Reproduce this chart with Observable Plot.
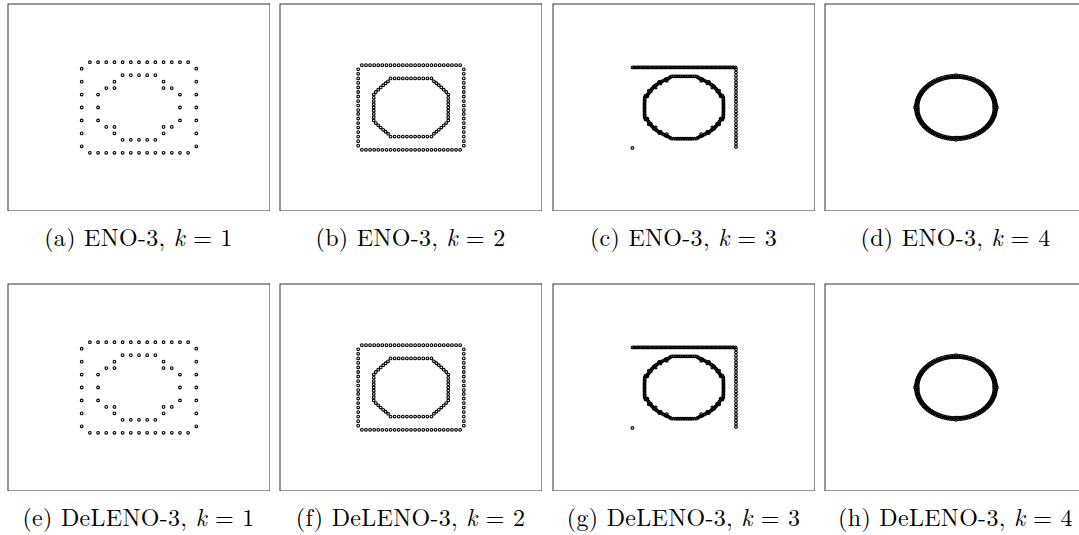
<!DOCTYPE html>
<html>
<head>
<meta charset="utf-8">
<script src="https://cdn.jsdelivr.net/npm/d3@7"></script>
<script src="https://cdn.jsdelivr.net/npm/@observablehq/plot@0.6"></script>
<style>
  body { margin: 0; background: #fff; }
  #fig { position: relative; width: 1079px; height: 535px; overflow: hidden; background: #fff; }
  .panel { position: absolute; width: 263px; height: 208px; }
  .panel svg { display: block; max-width: none !important; width: 263px; height: 208px; }
  .cap {
    position: absolute; width: 340px; text-align: center; white-space: nowrap;
    font-family: "Latin Modern Roman", "CMU Serif", "Liberation Serif", serif;
    font-size: 24px; line-height: 24px; letter-spacing: 0.3px; color: #000;
  }
  .cap i { letter-spacing: 0; }
</style>
</head>
<body>
<div id="fig"></div>
<script>
// Interface marker positions on a 32 x 32 unit box (centre at 16,16).
const schemes = ["ENO-3", "DeLENO-3"];
const levels = [1, 2, 3, 4];
const letters = ["a", "b", "c", "d", "e", "f", "g", "h"];

// k = 1 : square ring + inner ring
const k1RowX = [10, 11, 12, 13, 14, 15, 16, 17, 18, 19, 20, 21, 22];
const k1RowY = [23, 9];
const k1ColY = [10, 12, 14, 16, 18, 20, 22];
const k1ColX = [9, 23];
const k1Inner = [
  [14, 21], [15, 21], [16, 21], [17, 21], [18, 21],
  [13, 20], [19, 20],
  [12, 19], [13, 19], [19, 19], [20, 19],
  [11, 18], [21, 18], [11, 16], [21, 16], [11, 14], [21, 14],
  [12, 13], [13, 13], [19, 13], [20, 13],
  [13, 12], [19, 12],
  [14, 11], [15, 11], [16, 11], [17, 11], [18, 11]
];

// k = 2
const k2RowX = [10, 10.5, 11, 11.5, 12, 12.5, 13, 13.5, 14, 14.5, 15, 15.5, 16, 16.5, 17, 17.5, 18, 18.5, 19, 19.5, 20, 20.5, 21, 21.5, 22];
const k2RowY = [22.55, 9.45];
const k2ColY = [10.1, 10.8, 11.5, 12.2, 12.9, 13.6, 14.3, 15, 15.6, 16.3, 17, 17.7, 18.4, 19.1, 19.8, 20.5, 21.2, 21.9];
const k2ColX = [9.55, 22.45];
const k2Inner = [
  [13.5, 20.5], [14, 20.5], [14.5, 20.5], [15, 20.5], [15.5, 20.5], [16, 20.5], [16.5, 20.5], [17, 20.5], [17.5, 20.5], [18, 20.5], [18.5, 20.5],
  [13.5, 11.5], [14, 11.5], [14.5, 11.5], [15, 11.5], [15.5, 11.5], [16, 11.5], [16.5, 11.5], [17, 11.5], [17.5, 11.5], [18, 11.5], [18.5, 11.5],
  [11.45, 14], [11.45, 14.5], [11.45, 15], [11.45, 15.5], [11.45, 16], [11.45, 16.5], [11.45, 17], [11.45, 17.5], [11.45, 18],
  [20.55, 14], [20.55, 14.5], [20.55, 15], [20.55, 15.5], [20.55, 16], [20.55, 16.5], [20.55, 17], [20.55, 17.5], [20.55, 18],
  [13.2, 20.05], [12.9, 19.75], [12.6, 19.45], [12.3, 19.1], [12.0, 18.75], [11.7, 18.4],
  [18.8, 20.05], [19.1, 19.75], [19.4, 19.45], [19.7, 19.1], [20.0, 18.75], [20.3, 18.4],
  [13.2, 11.95], [12.9, 12.25], [12.6, 12.55], [12.3, 12.9], [12.0, 13.25], [11.7, 13.6],
  [18.8, 11.95], [19.1, 12.25], [19.4, 12.55], [19.7, 12.9], [20.0, 13.25], [20.3, 13.6]
];

// k = 3 : top edge, right edge, lone marker, ring (angle in degrees, radius)
const k3TopX = [9.7, 9.9, 10.1, 10.3, 10.5, 10.7, 10.9, 11.1, 11.3, 11.5, 11.7, 11.9, 12.1, 12.3, 12.5, 12.7, 12.9, 13.1, 13.3, 13.5, 13.7, 13.9, 14.1, 14.3, 14.5, 14.7, 14.9, 15.1, 15.3, 15.5, 15.7, 15.9, 16.1, 16.3, 16.5, 16.7, 16.9, 17.1, 17.3, 17.5, 17.7, 17.9, 18.1, 18.3, 18.5, 18.7, 18.9, 19.1, 19.3, 19.5, 19.7, 19.9, 20.1, 20.3, 20.5, 20.7, 20.9, 21.1, 21.3, 21.5, 21.7, 21.9, 22.1, 22.3];
const k3TopY = 22.2;
const k3ColY = [9.9, 10.4, 10.9, 11.4, 11.9, 12.4, 12.9, 13.4, 13.9, 14.4, 14.9, 15.4, 15.9, 16.4, 16.9, 17.4, 17.9, 18.4, 18.9, 19.4, 19.9, 20.4, 20.9, 21.4, 21.9];
const k3ColX = 22.35;
const k3Lone = [9.7, 9.75];
const k3RingStep = 2.5;
const k3RingR = [
  4.82, 4.83, 4.84, 4.86, 4.89, 4.93, 4.98, 5.04, 4.98, 4.9, 4.86, 4.85, 4.85, 4.85, 4.86, 4.86, 4.86, 4.86,
  4.86, 4.86, 4.86, 4.86, 4.85, 4.85, 4.85, 4.85, 4.86, 4.9, 4.98, 5.04, 4.98, 4.93, 4.89, 4.86, 4.84, 4.83,
  4.82, 4.83, 4.84, 4.86, 4.89, 4.93, 4.98, 5.04, 4.98, 4.9, 4.86, 4.85, 4.85, 4.85, 4.86, 4.86, 4.86, 4.86,
  4.86, 4.86, 4.86, 4.86, 4.85, 4.85, 4.85, 4.85, 4.86, 4.9, 4.98, 5.04, 4.98, 4.93, 4.89, 4.86, 4.84, 4.83,
  4.82, 4.83, 4.84, 4.86, 4.89, 4.93, 4.98, 5.04, 4.98, 4.9, 4.86, 4.85, 4.85, 4.85, 4.86, 4.86, 4.86, 4.86,
  4.86, 4.86, 4.86, 4.86, 4.85, 4.85, 4.85, 4.85, 4.86, 4.9, 4.98, 5.04, 4.98, 4.93, 4.89, 4.86, 4.84, 4.83,
  4.82, 4.83, 4.84, 4.86, 4.89, 4.93, 4.98, 5.04, 4.98, 4.9, 4.86, 4.85, 4.85, 4.85, 4.86, 4.86, 4.86, 4.86,
  4.86, 4.86, 4.86, 4.86, 4.85, 4.85, 4.85, 4.85, 4.86, 4.9, 4.98, 5.04, 4.98, 4.93, 4.89, 4.86, 4.84, 4.83
];
// extra markers bunched along the diagonal stretches of the k = 3 ring: [angle, radius]
const k3Clusters = [
  [63, 4.62], [63, 4.9], [52.5, 4.7], [52.5, 4.98], [41.7, 4.64], [41.7, 4.92], [31.4, 4.76], [31.4, 5.02], [21.2, 4.8], [21.2, 5.05],
  [117, 4.62], [117, 4.9], [127.5, 4.7], [127.5, 4.98], [138.3, 4.64], [138.3, 4.92], [148.6, 4.76], [148.6, 5.02], [158.8, 4.8], [158.8, 5.05],
  [243, 4.62], [243, 4.9], [232.5, 4.7], [232.5, 4.98], [221.7, 4.64], [221.7, 4.92], [211.4, 4.76], [211.4, 5.02], [201.2, 4.8], [201.2, 5.05],
  [297, 4.62], [297, 4.9], [307.5, 4.7], [307.5, 4.98], [318.3, 4.64], [318.3, 4.92], [328.6, 4.76], [328.6, 5.02], [338.8, 4.8], [338.8, 5.05]
];

// k = 4 : dense ring, two staggered bands (angle step 3 degrees, offset 1.5)
const k4RingStep = 3;
const k4RingOuterR = [
  5.0, 4.93, 4.9, 4.9, 4.9, 4.9, 4.9, 4.9, 4.9, 4.9, 4.9, 4.9, 4.9, 4.9, 4.9, 4.9, 4.9, 4.9, 4.9, 4.9, 4.9, 4.9, 4.9, 4.9, 4.9, 4.9, 4.9, 4.9, 4.9, 4.93,
  5.0, 4.93, 4.9, 4.9, 4.9, 4.9, 4.9, 4.9, 4.9, 4.9, 4.9, 4.9, 4.9, 4.9, 4.9, 4.9, 4.9, 4.9, 4.9, 4.9, 4.9, 4.9, 4.9, 4.9, 4.9, 4.9, 4.9, 4.9, 4.9, 4.93,
  5.0, 4.93, 4.9, 4.9, 4.9, 4.9, 4.9, 4.9, 4.9, 4.9, 4.9, 4.9, 4.9, 4.9, 4.9, 4.9, 4.9, 4.9, 4.9, 4.9, 4.9, 4.9, 4.9, 4.9, 4.9, 4.9, 4.9, 4.9, 4.9, 4.93,
  5.0, 4.93, 4.9, 4.9, 4.9, 4.9, 4.9, 4.9, 4.9, 4.9, 4.9, 4.9, 4.9, 4.9, 4.9, 4.9, 4.9, 4.9, 4.9, 4.9, 4.9, 4.9, 4.9, 4.9, 4.9, 4.9, 4.9, 4.9, 4.9, 4.93
];
const k4RingInnerR = [
  4.66, 4.68, 4.7, 4.7, 4.7, 4.7, 4.7, 4.7, 4.7, 4.7, 4.7, 4.7, 4.7, 4.7, 4.7, 4.7, 4.7, 4.7, 4.7, 4.7, 4.7, 4.7, 4.7, 4.7, 4.7, 4.7, 4.7, 4.7, 4.7, 4.68,
  4.66, 4.68, 4.7, 4.7, 4.7, 4.7, 4.7, 4.7, 4.7, 4.7, 4.7, 4.7, 4.7, 4.7, 4.7, 4.7, 4.7, 4.7, 4.7, 4.7, 4.7, 4.7, 4.7, 4.7, 4.7, 4.7, 4.7, 4.7, 4.7, 4.68,
  4.66, 4.68, 4.7, 4.7, 4.7, 4.7, 4.7, 4.7, 4.7, 4.7, 4.7, 4.7, 4.7, 4.7, 4.7, 4.7, 4.7, 4.7, 4.7, 4.7, 4.7, 4.7, 4.7, 4.7, 4.7, 4.7, 4.7, 4.7, 4.7, 4.68,
  4.66, 4.68, 4.7, 4.7, 4.7, 4.7, 4.7, 4.7, 4.7, 4.7, 4.7, 4.7, 4.7, 4.7, 4.7, 4.7, 4.7, 4.7, 4.7, 4.7, 4.7, 4.7, 4.7, 4.7, 4.7, 4.7, 4.7, 4.7, 4.7, 4.68
];

// ---- build point tables ----
const C = 16;
const pt = (x, y) => ({x, y});
const polar = (r, deg) => pt(C + r * Math.cos(deg * Math.PI / 180), C + r * Math.sin(deg * Math.PI / 180));
const box = (rowX, rowY, colY, colX) => [
  ...rowY.flatMap(y => rowX.map(x => pt(x, y))),
  ...colX.flatMap(x => colY.map(y => pt(x, y)))
];

const pointsByLevel = {
  1: [...box(k1RowX, k1RowY, k1ColY, k1ColX), ...k1Inner.map(([x, y]) => pt(x, y))],
  2: [...box(k2RowX, k2RowY, k2ColY, k2ColX), ...k2Inner.map(([x, y]) => pt(x, y))],
  3: [
    ...k3TopX.map(x => pt(x, k3TopY)),
    ...k3ColY.map(y => pt(k3ColX, y)),
    pt(k3Lone[0], k3Lone[1]),
    ...k3RingR.map((r, i) => polar(r, i * k3RingStep)),
    ...k3Clusters.map(([a, r]) => polar(r, a))
  ],
  4: [
    ...k4RingOuterR.map((r, i) => polar(r, i * k4RingStep)),
    ...k4RingInnerR.map((r, i) => polar(r, i * k4RingStep + k4RingStep / 2))
  ]
};

// ---- layout ----
const W = 263, H = 208;
const colLeft = [7, 279, 552, 824];
const rowTop = [3, 283];
const capTop = [224, 504];

function panel(points) {
  return Plot.plot({
    width: W, height: H,
    marginTop: 0.5, marginRight: 0.5, marginBottom: 0.5, marginLeft: 0.5,
    x: {domain: [0, 32], axis: null},
    y: {domain: [0, 32], axis: null},
    marks: [
      Plot.frame({stroke: "#333", strokeWidth: 1}),
      Plot.dot(points, {x: "x", y: "y", r: 1.35, stroke: "#000", strokeWidth: 1.1, fill: "none"})
    ]
  });
}

const fig = document.getElementById("fig");
schemes.forEach((scheme, row) => {
  levels.forEach((k, col) => {
    const div = document.createElement("div");
    div.className = "panel";
    div.style.left = colLeft[col] + "px";
    div.style.top = rowTop[row] + "px";
    div.appendChild(panel(pointsByLevel[k]));
    fig.appendChild(div);

    const cap = document.createElement("div");
    cap.className = "cap";
    cap.style.left = (colLeft[col] + W / 2 - 170) + "px";
    cap.style.top = capTop[row] + "px";
    cap.innerHTML = `(${letters[row * 4 + col]}) ${scheme}, <i>k</i> = ${k}`;
    fig.appendChild(cap);
  });
});
</script>
</body>
</html>
